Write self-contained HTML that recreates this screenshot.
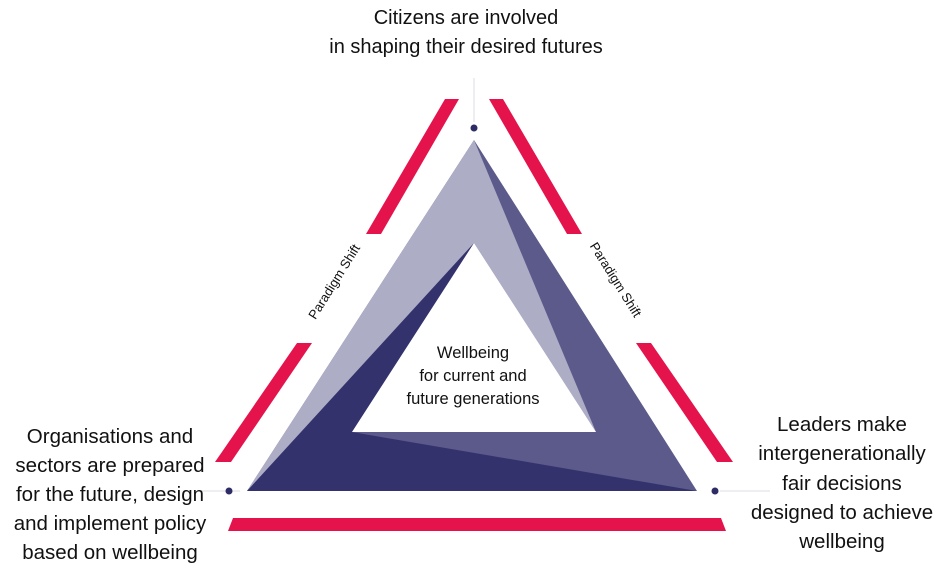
<!DOCTYPE html>
<html><head><meta charset="utf-8"><style>
body{margin:0;background:#fff;width:940px;height:569px;overflow:hidden}
svg{display:block}
text{font-family:"Liberation Sans",sans-serif;fill:#111}
</style></head><body>
<svg width="940" height="569" viewBox="0 0 940 569">
<line x1="474" y1="78" x2="474" y2="122" stroke="#dcdce6" stroke-width="1"/>
<line x1="200" y1="491" x2="240" y2="491" stroke="#dcdce6" stroke-width="1"/>
<line x1="720" y1="491" x2="770" y2="491" stroke="#dcdce6" stroke-width="1"/>
<g fill="#e5134b">
<polygon points="445,99 459,99 381,234 366,234"/>
<polygon points="297,343 312,343 231,462 215,462"/>
<polygon points="489,99 503,99 582,234 567,234"/>
<polygon points="636,343 651,343 733,462 717,462"/>
<polygon points="233,518 721,518 726,531 228,531"/>
</g>
<polygon points="474,140 697,491 247,491" fill="#5c5a8a"/>
<polygon points="474,140 596,432 474,243 249,489 247,491" fill="#adadc6"/>
<polygon points="247,491 474,243 352,432 697,491" fill="#34326c"/>
<polygon points="474,243 596,432 352,432" fill="#fff"/>
<g fill="#2e2c66">
<circle cx="474" cy="128" r="3.5"/>
<circle cx="229" cy="491" r="3.5"/>
<circle cx="715" cy="491" r="3.5"/>
</g>
<g font-size="20" text-anchor="middle">
<text x="466" y="24">Citizens are involved</text>
<text x="466" y="53">in shaping their desired futures</text>
</g>
<g font-size="20.5" text-anchor="middle">
<text x="110" y="443">Organisations and</text>
<text x="110" y="472">sectors are prepared</text>
<text x="110" y="501">for the future, design</text>
<text x="110" y="530">and implement policy</text>
<text x="110" y="559">based on wellbeing</text>
<text x="842" y="431">Leaders make</text>
<text x="842" y="460">intergenerationally</text>
<text x="842" y="490">fair decisions</text>
<text x="842" y="519">designed to achieve</text>
<text x="842" y="548">wellbeing</text>
</g>
<g font-size="16.5" text-anchor="middle">
<text x="473" y="358">Wellbeing</text>
<text x="473" y="381">for current and</text>
<text x="473" y="404">future generations</text>
</g>
<text font-size="13" text-anchor="middle" transform="translate(338,284) rotate(-58)">Paradigm Shift</text>
<text font-size="13" text-anchor="middle" transform="translate(612,282) rotate(58)">Paradigm Shift</text>
</svg>
</body></html>
